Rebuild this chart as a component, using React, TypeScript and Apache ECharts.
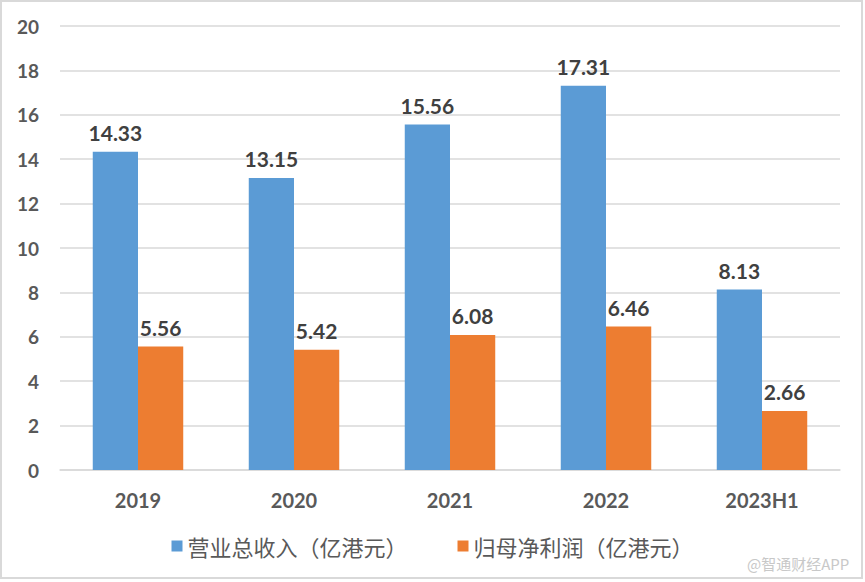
import React, { useEffect, useRef } from "react";
import * as echarts from "echarts";

const categories = ["2019", "2020", "2021", "2022", "2023H1"];
const revenue = [14.33, 13.15, 15.56, 17.31, 8.13];
const netProfit = [5.56, 5.42, 6.08, 6.46, 2.66];
const seriesNames = ["营业总收入（亿港元）", "归母净利润（亿港元）"];
const watermark = "@智通财经APP";

export default function App() {
  const ref = useRef<HTMLDivElement>(null);
  useEffect(() => {
    if (!ref.current) return;
    const chart = echarts.init(ref.current, null, { renderer: "svg" });
    const labelStyle = {
      show: true,
      position: "top" as const,
      distance: 9,
      fontFamily: "Lato",
      fontWeight: "bold" as const,
      fontSize: 21,
      color: "#404040",
      formatter: (p: any) => p.value.toFixed(2),
    };
    chart.setOption({
      animation: false,
      backgroundColor: "#ffffff",
      grid: { left: 60, right: 25, top: 26, bottom: 112, containLabel: false },
      legend: {
        bottom: 20,
        left: "center",
        itemWidth: 11,
        itemHeight: 11,
        itemGap: 50,
        icon: "rect",
        textStyle: { fontFamily: "Noto Sans CJK SC", fontSize: 22, color: "#595959" },
        data: seriesNames,
      },
      xAxis: {
        type: "category",
        data: categories,
        axisLine: { show: true, lineStyle: { color: "#d9d9d9", width: 1.5 } },
        axisTick: { show: false },
        axisLabel: {
          fontFamily: "Lato",
          fontWeight: "bold",
          fontSize: 20,
          color: "#595959",
          margin: 20,
        },
      },
      yAxis: {
        type: "value",
        min: 0,
        max: 20,
        interval: 2,
        axisLine: { show: false },
        axisTick: { show: false },
        splitLine: { lineStyle: { color: "#d9d9d9", width: 1.5 } },
        axisLabel: {
          fontFamily: "Lato",
          fontWeight: "bold",
          fontSize: 19,
          color: "#595959",
          margin: 21,
        },
      },
      series: [
        {
          name: seriesNames[0],
          type: "bar",
          data: revenue,
          barGap: "0%",
          barCategoryGap: "42%",
          itemStyle: { color: "#5b9bd5" },
          label: labelStyle,
        },
        {
          name: seriesNames[1],
          type: "bar",
          data: netProfit,
          itemStyle: { color: "#ed7d31" },
          label: labelStyle,
        },
      ],
      graphic: [
        {
          type: "rect",
          shape: { x: 1, y: 1, width: 861, height: 577 },
          style: { fill: "none", stroke: "#d9d9d9", lineWidth: 2 },
          silent: true,
        },
        {
          type: "text",
          x: 747,
          y: 556,
          style: {
            text: watermark,
            fontFamily: "Noto Sans CJK SC",
            fontSize: 15,
            fill: "#c8c8c8",
          },
          silent: true,
        },
      ],
    });
    return () => chart.dispose();
  }, []);
  return (
    <div
      ref={ref}
      style={{ position: "absolute", left: 0, top: 0, width: 865, height: 582 }}
    />
  );
}
